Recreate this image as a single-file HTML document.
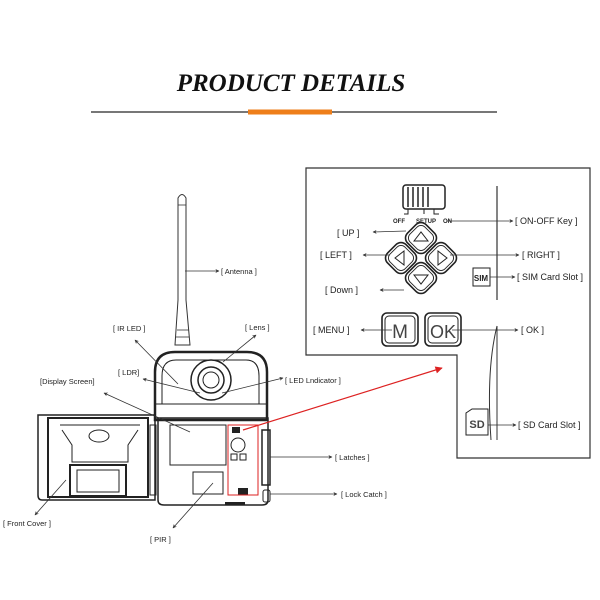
<!DOCTYPE html>
<html><head><meta charset="utf-8"><style>
html,body{margin:0;padding:0;background:#fff;}
svg{display:block;}
text{font-family:"Liberation Sans",sans-serif;fill:#222;}
</style></head><body>
<svg width="600" height="600" viewBox="0 0 600 600" xmlns="http://www.w3.org/2000/svg">
<defs>
<marker id="a" viewBox="0 0 10 10" refX="9" refY="5" markerWidth="7" markerHeight="5" orient="auto-start-reverse"><path d="M0,0L10,5L0,10L3,5z" fill="#333"/></marker>
<marker id="r" viewBox="0 0 10 10" refX="9" refY="5" markerWidth="7" markerHeight="6" orient="auto"><path d="M0,0L10,5L0,10z" fill="#d22"/></marker>
</defs>
<text x="291" y="91" text-anchor="middle" style="font-family:'Liberation Serif',serif;font-weight:bold;font-style:italic;font-size:25px;fill:#111">PRODUCT DETAILS</text>
<line x1="91" y1="112" x2="497" y2="112" stroke="#777" stroke-width="2"/>
<line x1="248" y1="112" x2="332" y2="112" stroke="#ee7e1a" stroke-width="5"/>

<path d="M306,168H590V458H457V355H306Z" fill="none" stroke="#333" stroke-width="1.2"/>
<line x1="497" y1="186" x2="497" y2="300" stroke="#333" stroke-width="1.2"/>
<line x1="497" y1="326" x2="497" y2="440" stroke="#333" stroke-width="1"/>
<path d="M497,326 Q486,370 491,440" fill="none" stroke="#333" stroke-width="1"/>
<rect x="403" y="185" width="42" height="24" rx="3" fill="none" stroke="#222" stroke-width="1.5"/>
<g stroke="#222" stroke-width="1.5"><line x1="408" y1="187" x2="408" y2="207"/><line x1="413" y1="187" x2="413" y2="207"/><line x1="418" y1="187" x2="418" y2="207"/><line x1="423" y1="187" x2="423" y2="207"/><line x1="428" y1="187" x2="428" y2="207"/></g>
<path d="M408,209v5h-4M424,209v5M434,209v5h5" fill="none" stroke="#222"/>
<text x="393" y="223" font-size="6" font-weight="bold">OFF</text>
<text x="416" y="223" font-size="6" font-weight="bold">SETUP</text>
<text x="443" y="223" font-size="6" font-weight="bold">ON</text>
<g fill="none" stroke="#222" stroke-width="1.6">
<g transform="rotate(45 421 238)"><rect x="408" y="225" width="26" height="26" rx="7"/><rect x="410.5" y="227.5" width="21" height="21" rx="5.5" stroke-width="0.9"/></g>
<g transform="rotate(45 421 278)"><rect x="408" y="265" width="26" height="26" rx="7"/><rect x="410.5" y="267.5" width="21" height="21" rx="5.5" stroke-width="0.9"/></g>
<g transform="rotate(45 401 258)"><rect x="388" y="245" width="26" height="26" rx="7"/><rect x="390.5" y="247.5" width="21" height="21" rx="5.5" stroke-width="0.9"/></g>
<g transform="rotate(45 441 258)"><rect x="428" y="245" width="26" height="26" rx="7"/><rect x="430.5" y="247.5" width="21" height="21" rx="5.5" stroke-width="0.9"/></g>
<path d="M414,241l7,-9l7,9z M414,275l7,9l7,-9z M395,258l9,-7v14z M447,258l-9,-7v14z" stroke-width="1"/>
<rect x="382" y="313" width="36" height="33" rx="5"/><rect x="385" y="316" width="30" height="27" rx="4" stroke-width="1"/>
<rect x="425" y="313" width="36" height="33" rx="5"/><rect x="428" y="316" width="30" height="27" rx="4" stroke-width="1"/>
<rect x="473" y="268" width="17" height="18" stroke-width="1"/>
<path d="M466,435V413l6,-4h16v26z" stroke-width="1"/>
</g>
<text x="400" y="338" font-size="19" text-anchor="middle" style="fill:#444">M</text>
<text x="443" y="338" font-size="18" text-anchor="middle" style="fill:#444">OK</text>
<text x="481" y="281" font-size="8" font-weight="bold" text-anchor="middle">SIM</text>
<text x="477" y="428" font-size="11" font-weight="bold" text-anchor="middle" style="fill:#444">SD</text>
<g stroke="#333" stroke-width="0.8" fill="none" marker-end="url(#a)">
<line x1="447" y1="221" x2="513" y2="221"/>
<line x1="406" y1="231" x2="373" y2="232"/>
<line x1="390" y1="255" x2="363" y2="255"/>
<line x1="450" y1="255" x2="519" y2="255"/>
<line x1="490" y1="277" x2="515" y2="277"/>
<line x1="404" y1="290" x2="380" y2="290"/>
<line x1="392" y1="330" x2="361" y2="330"/>
<line x1="452" y1="330" x2="518" y2="330"/>
<line x1="488" y1="425" x2="516" y2="425"/>
</g>
<g font-size="9">
<text x="515" y="224">[ ON-OFF Key ]</text>
<text x="337" y="236">[ UP ]</text>
<text x="320" y="258">[ LEFT ]</text>
<text x="522" y="258">[ RIGHT ]</text>
<text x="517" y="280">[ SIM Card Slot ]</text>
<text x="325" y="293">[ Down ]</text>
<text x="313" y="333">[ MENU ]</text>
<text x="521" y="333">[ OK ]</text>
<text x="518" y="428">[ SD Card Slot ]</text>
</g>

<path d="M178,198 Q182,191 186,198 V300 L190,345 H175 L178,300 Z" fill="#fff" stroke="#333" stroke-width="1"/>
<g stroke="#333" stroke-width="0.8"><line x1="178" y1="205" x2="186" y2="205"/><line x1="177" y1="330" x2="189" y2="330"/><line x1="176" y1="337" x2="189" y2="337"/></g>
<g fill="none" stroke="#222">
<path d="M155,372 Q155,352 175,352 H247 Q267,352 267,372 V420 H155Z" stroke-width="2.5"/>
<path d="M162,376 Q162,360 176,360 H246 Q259,360 259,376 V404 H162Z" stroke-width="1"/>
<circle cx="211" cy="380" r="20" stroke-width="1.5"/><circle cx="211" cy="380" r="13" stroke-width="1.5"/><circle cx="211" cy="380" r="8"/>
<rect x="155" y="404" width="112" height="14" stroke-width="1"/>
<path d="M158,418 H268 V500 Q268,505 262,505 H164 Q158,505 158,500Z" stroke-width="1.5"/>
<rect x="170" y="425" width="56" height="40" stroke-width="1"/>
<rect x="193" y="472" width="30" height="22" stroke-width="1"/>
<rect x="262" y="430" width="8" height="55" stroke-width="1.5"/>
<rect x="263" y="490" width="7" height="12" rx="2"/>
<circle cx="238" cy="445" r="7"/><rect x="231" y="454" width="6" height="6"/><rect x="240" y="454" width="6" height="6"/>
<path d="M38,415 H155 V500 H42 Q38,500 38,495Z" stroke-width="1.5"/>
<path d="M48,418 H148 V497 H48Z" stroke-width="2"/>
<path d="M60,425 H140 M62,430 L72,445 V462 H128 V445 L138,430" stroke-width="1"/>
<ellipse cx="99" cy="436" rx="10" ry="6"/>
<rect x="70" y="465" width="56" height="31" stroke-width="2"/><rect x="77" y="470" width="42" height="22"/>
<rect x="150" y="425" width="6" height="70" stroke-width="1"/>
</g>
<g fill="#222"><rect x="232" y="427" width="8" height="6"/><rect x="238" y="488" width="10" height="7"/><rect x="225" y="502" width="20" height="3"/></g>
<rect x="228" y="425" width="30" height="70" fill="none" stroke="#d22" stroke-width="1"/>
<line x1="243" y1="430" x2="442" y2="368" stroke="#d22" stroke-width="1.2" marker-end="url(#r)"/>

<g stroke="#333" stroke-width="0.8" fill="none" marker-end="url(#a)">
<line x1="185" y1="271" x2="219" y2="271"/>
<line x1="178" y1="384" x2="135" y2="340"/>
<line x1="223" y1="362" x2="256" y2="335"/>
<line x1="200" y1="393" x2="143" y2="379"/>
<line x1="222" y1="393" x2="283" y2="378"/>
<line x1="190" y1="432" x2="104" y2="393"/>
<line x1="270" y1="457" x2="332" y2="457"/>
<line x1="270" y1="494" x2="337" y2="494"/>
<line x1="66" y1="480" x2="35" y2="515"/>
<line x1="213" y1="483" x2="173" y2="528"/>
</g>
<g font-size="7.5">
<text x="221" y="274">[ Antenna ]</text>
<text x="113" y="331">[ IR LED ]</text>
<text x="245" y="330">[ Lens ]</text>
<text x="118" y="375">[ LDR]</text>
<text x="40" y="384">[Display Screen]</text>
<text x="285" y="383">[ LED Lndicator ]</text>
<text x="335" y="460">[ Latches ]</text>
<text x="341" y="497">[ Lock Catch ]</text>
<text x="3" y="526">[ Front Cover ]</text>
<text x="150" y="542">[ PIR ]</text>
</g>
</svg>
</body></html>
